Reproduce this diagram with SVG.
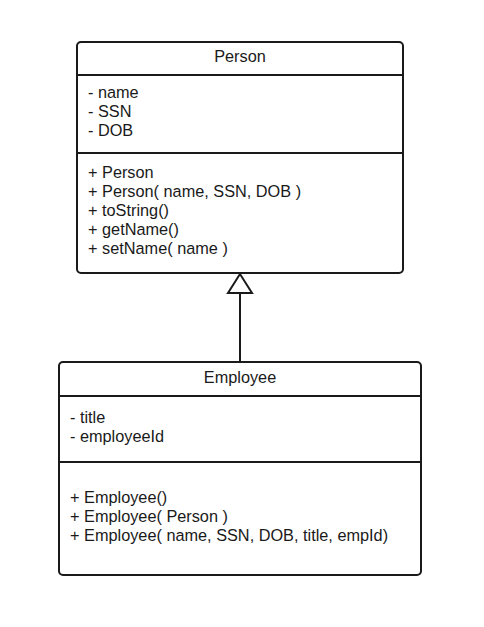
<svg xmlns="http://www.w3.org/2000/svg" width="484" height="627" viewBox="0 0 484 627">
<style>
.box{fill:#fff;stroke:#1a1a1a;stroke-width:2}
.div{stroke:#1a1a1a;stroke-width:2}
text{font-family:"Liberation Sans",Arial,sans-serif;font-size:16.3px;fill:#1a1a1a}
.t{text-anchor:middle}
.conn{stroke:#1a1a1a;stroke-width:2;fill:none}
</style>
<rect width="484" height="627" fill="#fff"/>
<g id="person">
<rect class="box" x="77" y="42" width="326" height="231" rx="4"/>
<line class="div" x1="77" y1="75" x2="403" y2="75"/>
<line class="div" x1="77" y1="153" x2="403" y2="153"/>
<text class="t" x="240" y="62">Person</text>
<text x="88" y="98">- name</text>
<text x="88" y="117">- SSN</text>
<text x="88" y="136">- DOB</text>
<text x="88" y="178">+ Person</text>
<text x="88" y="197">+ Person( name, SSN, DOB )</text>
<text x="88" y="216">+ toString()</text>
<text x="88" y="235">+ getName()</text>
<text x="88" y="254">+ setName( name )</text>
</g>
<g id="employee">
<rect class="box" x="59" y="362" width="362" height="213" rx="4"/>
<line class="div" x1="59" y1="396" x2="421" y2="396"/>
<line class="div" x1="59" y1="462" x2="421" y2="462"/>
<text class="t" x="240" y="383">Employee</text>
<text x="70" y="423">- title</text>
<text x="70" y="442">- employeeId</text>
<text x="70" y="503">+ Employee()</text>
<text x="70" y="522">+ Employee( Person )</text>
<text x="70" y="541">+ Employee( name, SSN, DOB, title, empId)</text>
</g>
<g id="connectors">
<line class="conn" x1="240" y1="362" x2="240" y2="293"/>
<polygon class="conn" points="240,274 228,293 252,293" style="fill:#fff"/>
</g>
</svg>
